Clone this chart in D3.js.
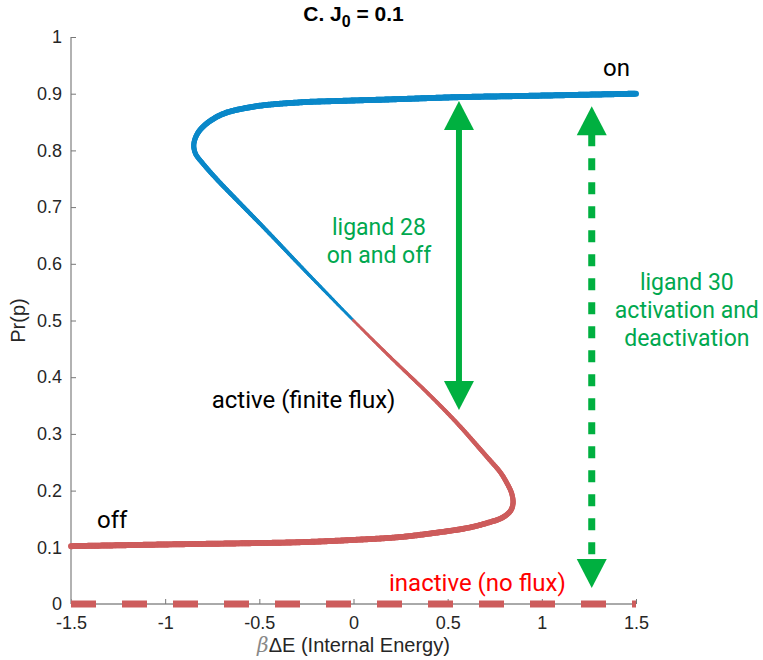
<!DOCTYPE html>
<html>
<head>
<meta charset="utf-8">
<script src="https://cdn.jsdelivr.net/npm/d3@7"></script>
<style>
  body { margin: 0; background: #fff; }
  svg text { font-family: "Liberation Sans", Arial, sans-serif; }
  .note { font-family: Roboto, "Noto Sans", sans-serif !important; font-size: 24px; }
  .note.green { font-size: 23px; }
</style>
</head>
<body>
<div id="chart"></div>
<script>
'use strict';

// S-shaped steady state curve, traced from the top branch (x = 1.5) to the bottom one (x = -1.5)
var curveE = [1.5, 1.2, 0.9, 0.566, 0.2, -0.1, -0.268, -0.533, -0.709, -0.815, -0.847, -0.84, -0.80,
  -0.72, -0.618, -0.5, -0.39, -0.284, -0.15, 0.0, 0.2, 0.4, 0.55, 0.71, 0.78, 0.815, 0.84, 0.847,
  0.835, 0.794, 0.7, 0.603, 0.4, 0.247, 0.0, -0.284, -0.6, -1.0, -1.5];
var curveP = [0.900, 0.898, 0.896, 0.894, 0.890, 0.887, 0.885, 0.877, 0.862, 0.836, 0.813, 0.795, 0.777,
  0.747, 0.712, 0.672, 0.634, 0.597, 0.551, 0.500, 0.434, 0.370, 0.319, 0.259, 0.232, 0.213, 0.195, 0.178,
  0.165, 0.153, 0.142, 0.134, 0.124, 0.118, 0.113, 0.109, 0.107, 0.105, 0.102];

var xTicks = [-1.5, -1, -0.5, 0, 0.5, 1, 1.5];
var yTicks = [0, 0.1, 0.2, 0.3, 0.4, 0.5, 0.6, 0.7, 0.8, 0.9, 1];

// arrows: [x, p of top tip, p of bottom tip]
var arrowSolid = [0.56, 0.887, 0.342];
var arrowDashed = [1.265, 0.878, 0.028];

var margin = { top: 37, right: 127, bottom: 56, left: 71 };
var width = 763, height = 660;
var w = width - margin.left - margin.right;
var h = height - margin.top - margin.bottom;

var x = d3.scaleLinear().domain([-1.5, 1.5]).range([0, w]);
var y = d3.scaleLinear().domain([0, 1]).range([h, 0]);

var svg = d3.select('#chart').append('svg')
    .attr('width', width)
    .attr('height', height);
var g = svg.append('g')
    .attr('transform', 'translate(' + margin.left + ',' + margin.top + ')');

var blue = '#0a88c9', red = '#cd5c5c', green = '#00b040', greenText = '#00a84f';

// axes
var xAxis = d3.axisBottom(x).tickValues(xTicks).tickSize(-5).tickPadding(12)
    .tickFormat(function (d) { return d; });
var yAxis = d3.axisLeft(y).tickValues(yTicks).tickSize(-5).tickPadding(9)
    .tickFormat(function (d) { return d; });

var gx = g.append('g').attr('transform', 'translate(0,' + h + ')').call(xAxis);
var gy = g.append('g').call(yAxis);
gx.select('.domain').attr('stroke', '#555').attr('d', 'M0,0H' + w);
gy.select('.domain').attr('stroke', '#999').attr('stroke-width', 1.5).attr('d', 'M0,0V' + h);
[gx, gy].forEach(function (a) {
  a.selectAll('.tick line').attr('stroke', '#777');
  a.selectAll('.tick text').attr('fill', '#262626').style('font-size', '18px');
});

// inactive state, p = 0, dashed
g.append('line')
    .attr('x1', x(-1.5)).attr('x2', x(1.5))
    .attr('y1', y(0)).attr('y2', y(0))
    .attr('stroke', red).attr('stroke-width', 7)
    .attr('stroke-dasharray', '25,26');

// curve: smooth path, then sampled and drawn in small pieces with varying width
var line = d3.line()
    .x(function (d) { return x(d[0]); })
    .y(function (d) { return y(d[1]); })
    .curve(d3.curveCatmullRom.alpha(0.5));
var pts = curveE.map(function (e, i) { return [e, curveP[i]]; });
var guide = g.append('path').attr('d', line(pts)).attr('fill', 'none').attr('stroke', 'none');
var node = guide.node();
var total = node.getTotalLength();
var widthScale = d3.scaleLinear().domain([0.1, 0.2, 0.5, 0.8, 0.9]).range([6, 5, 2.6, 5, 6]).clamp(true);
var step = 1.5;
var prev = node.getPointAtLength(0);
var seg = g.append('g').attr('class', 'curve');
for (var s = step; s <= total + step; s += step) {
  var cur = node.getPointAtLength(Math.min(s, total));
  var pMid = y.invert((prev.y + cur.y) / 2);
  seg.append('line')
      .attr('x1', prev.x).attr('y1', prev.y)
      .attr('x2', cur.x).attr('y2', cur.y)
      .attr('stroke', pMid >= 0.5 ? blue : red)
      .attr('stroke-width', widthScale(pMid))
      .attr('stroke-linecap', 'round');
  prev = cur;
}

// arrows
function drawArrow(a, dashed) {
  var ax = x(a[0]), yTop = y(a[1]), yBot = y(a[2]);
  var hw = 15, hl = 29;
  g.append('line')
      .attr('x1', ax).attr('x2', ax)
      .attr('y1', yTop + hl - 1).attr('y2', yBot - hl + 1)
      .attr('stroke', green).attr('stroke-width', dashed ? 7 : 6)
      .attr('stroke-dasharray', dashed ? '12,12' : null);
  g.append('path')
      .attr('d', 'M' + ax + ',' + yTop + 'L' + (ax - hw) + ',' + (yTop + hl) + 'L' + (ax + hw) + ',' + (yTop + hl) + 'Z')
      .attr('fill', green);
  g.append('path')
      .attr('d', 'M' + ax + ',' + yBot + 'L' + (ax - hw) + ',' + (yBot - hl) + 'L' + (ax + hw) + ',' + (yBot - hl) + 'Z')
      .attr('fill', green);
}
drawArrow(arrowSolid, false);
drawArrow(arrowDashed, true);

// annotations
function note(txt, ex, p, color, anchor, cls) {
  g.append('text').attr('class', 'note' + (cls ? ' ' + cls : ''))
      .attr('x', x(ex)).attr('y', y(p))
      .attr('fill', color).attr('text-anchor', anchor || 'start')
      .text(txt);
}
note('on', 1.325, 0.931, '#000');
note('off', -1.362, 0.134, '#000');
note('active (finite flux)', -0.753, 0.3455, '#000');
note('inactive (no flux)', 0.658, 0.023, '#ff0000', 'middle');
note('ligand 28', 0.135, 0.650, greenText, 'middle', 'green');
note('on and off', 0.135, 0.601, greenText, 'middle', 'green');
note('ligand 30', 1.77, 0.5535, greenText, 'middle', 'green');
note('activation and', 1.77, 0.505, greenText, 'middle', 'green');
note('deactivation', 1.77, 0.455, greenText, 'middle', 'green');

// title
var title = svg.append('text')
    .attr('x', margin.left + x(0)).attr('y', 21)
    .attr('text-anchor', 'middle')
    .style('font-size', '21px').style('font-weight', 'bold').attr('fill', '#000');
title.append('tspan').text('C. J');
title.append('tspan').attr('dy', 6).style('font-size', '16px').text('0');
title.append('tspan').attr('dy', -6).text(' = 0.1');

// axis labels
var xl = svg.append('text')
    .attr('x', margin.left + x(0)).attr('y', 652)
    .attr('text-anchor', 'middle')
    .style('font-size', '20px').attr('fill', '#262626');
xl.append('tspan').style('font-style', 'italic').attr('fill', '#888').style('font-family', '"DejaVu Serif", serif').text('β');
xl.append('tspan').text('ΔE (Internal Energy)');

svg.append('text')
    .attr('transform', 'translate(25,' + (margin.top + y(0.5)) + ') rotate(-90)')
    .attr('text-anchor', 'middle')
    .style('font-size', '20px').attr('fill', '#262626')
    .text('Pr(p)');
</script>
</body>
</html>
